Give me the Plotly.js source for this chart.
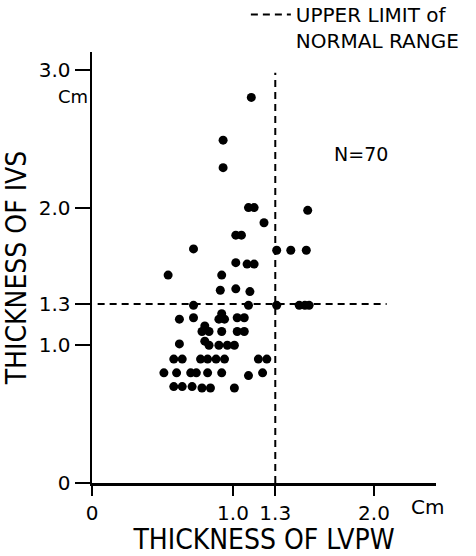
<!DOCTYPE html>
<html>
<head>
<meta charset="utf-8">
<script src="https://cdn.plot.ly/plotly-3.0.1.min.js"></script>
<style>html,body{margin:0;padding:0;background:#fff;}#chart{width:476px;height:556px;}</style>
</head>
<body>
<div id="chart"></div>
<script>
// LVPW thickness (cm) of each patient
const lvpw = [
  1.13, 0.93, 0.93,
  1.11, 1.15, 1.53,
  1.22,
  1.02, 1.06,
  0.72, 1.31, 1.41, 1.52,
  1.02, 1.10, 1.15,
  0.54, 0.92,
  0.91, 1.02, 1.12,
  0.72, 1.11, 1.31, 1.47, 1.51, 1.54,
  0.62, 0.72, 0.90, 0.94, 0.92, 1.03, 1.08,
  0.80, 0.78, 0.83, 0.92, 1.03, 1.08,
  0.62, 0.80, 0.83, 0.90, 0.96, 1.01,
  0.58, 0.64, 0.77, 0.82, 0.88, 0.94, 1.18, 1.24,
  0.51, 0.60, 0.70, 0.74, 0.82, 0.92, 1.11, 1.21,
  0.58, 0.64, 0.71, 0.78, 0.84, 1.01
];
// IVS thickness (cm) of each patient
const ivs = [
  2.80, 2.49, 2.29,
  2.00, 2.00, 1.98,
  1.89,
  1.80, 1.80,
  1.70, 1.69, 1.69, 1.69,
  1.60, 1.59, 1.59,
  1.51, 1.51,
  1.40, 1.41, 1.39,
  1.29, 1.29, 1.29, 1.29, 1.29, 1.29,
  1.19, 1.20, 1.19, 1.19, 1.23, 1.20, 1.20,
  1.14, 1.10, 1.10, 1.10, 1.10, 1.10,
  1.01, 1.03, 1.00, 1.00, 1.00, 1.00,
  0.90, 0.90, 0.90, 0.90, 0.90, 0.90, 0.90, 0.90,
  0.80, 0.80, 0.80, 0.80, 0.80, 0.80, 0.78, 0.80,
  0.70, 0.70, 0.70, 0.69, 0.69, 0.69
];
// upper limit of normal range
const limit = 1.3;
const limitHx = [0.04, 2.09];
const limitVy = [0, 2.98];
const xTickVals = [0, 1.0, 1.3, 2.0];
const xTickText = ['0', '1.0', '1.3', '2.0'];
const yTickVals = [0, 1.0, 1.3, 2.0, 3.0];
const yTickText = ['0', '1.0', '1.3', '2.0', '3.0'];

const F = '"DejaVu Sans", Arial, sans-serif';
const FC = '"DejaVu Sans Condensed", "DejaVu Sans", Arial, sans-serif';

const traces = [
  {
    x: limitHx, y: [limit, limit], mode: 'lines', type: 'scatter',
    line: {color: '#000', width: 2, dash: '7px,5px'},
    name: 'UPPER LIMIT of<br>NORMAL RANGE', showlegend: true, hoverinfo: 'skip'
  },
  {
    x: [limit, limit], y: limitVy, mode: 'lines', type: 'scatter',
    line: {color: '#000', width: 2, dash: '7px,5px'},
    showlegend: false, hoverinfo: 'skip'
  },
  {
    x: lvpw, y: ivs, mode: 'markers', type: 'scatter',
    marker: {color: '#000', size: 9},
    showlegend: false
  }
];

const layout = {
  width: 476, height: 556,
  margin: {l: 92, r: 40, t: 52, b: 73, autoexpand: false},
  paper_bgcolor: '#fff', plot_bgcolor: '#fff',
  font: {family: F, color: '#000'},
  showlegend: true,
  legend: {x: 1.081, y: 1.132, xanchor: 'right', yanchor: 'top', font: {size: 20, family: F},
           bgcolor: 'rgba(0,0,0,0)', itemwidth: 40, valign: 'top', tracegroupgap: 0},
  xaxis: {
    range: [0, 2.44], showgrid: false, zeroline: false, automargin: true,
    showline: true, linewidth: 2.5, linecolor: '#000',
    ticks: 'outside', ticklen: 10, tickwidth: 2, tickcolor: '#000',
    tickvals: xTickVals, ticktext: xTickText, tickfont: {size: 20},
    title: {text: 'THICKNESS OF LVPW', font: {size: 28, family: FC}, standoff: 8}
  },
  yaxis: {
    range: [0, 3.13], showgrid: false, zeroline: false, automargin: true,
    showline: true, linewidth: 2.5, linecolor: '#000',
    ticks: 'outside', ticklen: 15, tickwidth: 2, tickcolor: '#000',
    tickvals: yTickVals, ticktext: yTickText, tickfont: {size: 20},
    title: {text: 'THICKNESS OF IVS', font: {size: 28, family: FC}, standoff: 4}
  },
  annotations: [
    {text: 'Cm', xref: 'paper', yref: 'y', x: 0, y: 3.0, xanchor: 'right', yanchor: 'top',
     xshift: -2, yshift: -14, showarrow: false, font: {size: 18}},
    {text: 'Cm', xref: 'x', yref: 'paper', x: 2.38, y: 0, xanchor: 'center', yanchor: 'top',
     yshift: -10, showarrow: false, font: {size: 20}},
    {text: 'N=70', xref: 'x', yref: 'y', x: 1.91, y: 2.39, showarrow: false, font: {size: 19}}
  ]
};

Plotly.newPlot('chart', traces, layout, {displayModeBar: false, staticPlot: true});
</script>
</body>
</html>
